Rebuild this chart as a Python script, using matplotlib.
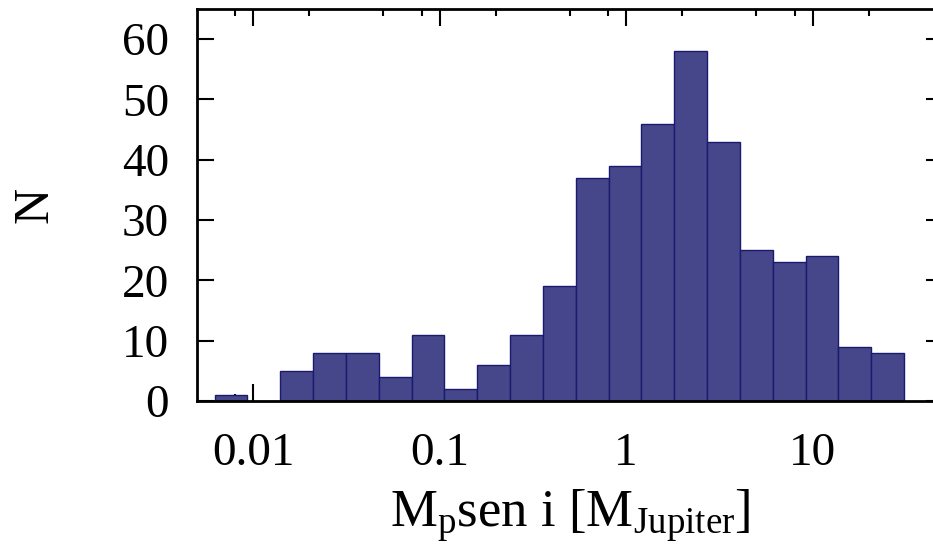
import numpy as np
import matplotlib
matplotlib.use("Agg")
import matplotlib.pyplot as plt
from matplotlib.ticker import FixedLocator, NullFormatter

# counts per logarithmic mass bin
counts = [1, 0, 5, 8, 8, 4, 11, 2, 6, 11, 19, 37, 39, 46, 58, 43, 25, 23, 24, 9, 8]
bin_lo, bin_hi = 0.00622, 30.9
major_ticks = [0.01, 0.1, 1, 10]
major_labels = ["0.01", "0.1", "1", "10"]
minor_ticks = [0.008, 0.02, 0.05, 0.08, 0.2, 0.5, 0.8, 2, 5, 8, 20]
y_ticks = [0, 10, 20, 30, 40, 50, 60]

plt.rcParams["font.family"] = ["Liberation Serif", "DejaVu Serif"]
plt.rcParams["mathtext.default"] = "regular"

edges = np.geomspace(bin_lo, bin_hi, len(counts) + 1)

fig = plt.figure(figsize=(9.33, 5.54), dpi=100)
ax = fig.add_axes([0.2111, 0.2762, 0.7996, 0.7076])

ax.bar(edges[:-1], counts, width=np.diff(edges), align="edge",
       color="#46468b", edgecolor="#1a1a6e", linewidth=1.0, zorder=1)

ax.set_xscale("log")
ax.set_xlim(0.005, 50)
ax.set_ylim(0, 65)
ax.set_axisbelow(True)

ax.xaxis.set_major_locator(FixedLocator(major_ticks))
ax.set_xticklabels(major_labels)
ax.xaxis.set_minor_locator(FixedLocator(minor_ticks))
ax.xaxis.set_minor_formatter(NullFormatter())
ax.set_yticks(y_ticks)

ax.tick_params(which="both", direction="in", top=True, right=True,
               labelsize=34, width=1.5, color="black")
ax.tick_params(which="major", length=12)
ax.tick_params(which="minor", length=5)
ax.tick_params(axis="y", pad=20)
ax.tick_params(axis="x", pad=23)

for s in ax.spines.values():
    s.set_linewidth(2)

ax.set_xlabel("M$_{p}$sen i [M$_{Jupiter}$]", fontsize=38, labelpad=9)
ax.set_ylabel("N", fontsize=36, labelpad=46)

fig.savefig("out.png", dpi=100)
